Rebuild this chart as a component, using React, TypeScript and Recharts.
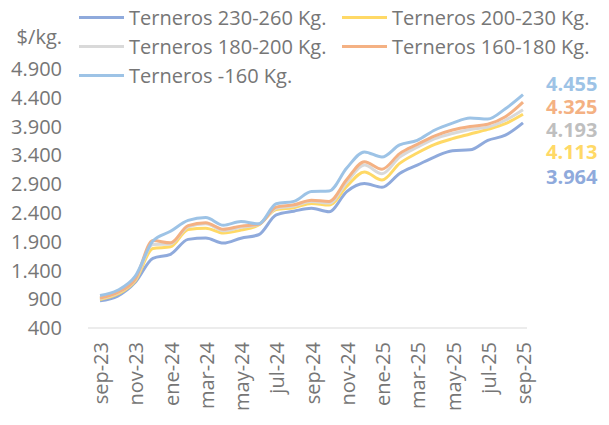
import React from 'react';
import { LineChart, Line, XAxis, YAxis, Legend } from 'recharts';

const months = [
  'sep-23', 'oct-23', 'nov-23', 'dic-23', 'ene-24', 'feb-24', 'mar-24', 'abr-24', 'may-24',
  'jun-24', 'jul-24', 'ago-24', 'sep-24', 'oct-24', 'nov-24', 'dic-24', 'ene-25', 'feb-25',
  'mar-25', 'abr-25', 'may-25', 'jun-25', 'jul-25', 'ago-25', 'sep-25',
];

const t230_260 = [875, 955, 1195, 1610, 1680, 1940, 1965, 1875, 1960, 2020, 2365, 2430, 2480, 2420, 2770, 2910, 2845, 3085, 3230, 3375, 3480, 3495, 3660, 3750, 3964];
const t200_230 = [895, 990, 1220, 1780, 1810, 2110, 2135, 2050, 2100, 2190, 2460, 2490, 2565, 2535, 2860, 3110, 2970, 3260, 3440, 3590, 3690, 3770, 3850, 3950, 4113];
const t180_200 = [910, 1010, 1240, 1850, 1860, 2160, 2210, 2090, 2150, 2200, 2480, 2520, 2600, 2570, 2930, 3230, 3080, 3370, 3540, 3690, 3780, 3850, 3890, 4010, 4193];
const t160_180 = [920, 1020, 1250, 1920, 1880, 2180, 2230, 2115, 2170, 2200, 2500, 2540, 2620, 2600, 2980, 3290, 3160, 3430, 3590, 3740, 3840, 3900, 3940, 4070, 4325];
const tMenos160 = [965, 1055, 1300, 1910, 2080, 2270, 2320, 2185, 2250, 2210, 2560, 2600, 2770, 2780, 3180, 3460, 3370, 3580, 3660, 3840, 3960, 4050, 4030, 4210, 4455];

const yTicks = [400, 900, 1400, 1900, 2400, 2900, 3400, 3900, 4400, 4900];

const data = months.map((m, i) => ({
  mes: m,
  a: t230_260[i],
  b: t200_230[i],
  c: t180_200[i],
  d: t160_180[i],
  e: tMenos160[i],
}));

const FONT = '"Open Sans", sans-serif';
const GRAY = '#767676';

const fmt = (v: number) => String(v).replace(/\B(?=(\d{3})+(?!\d))/g, '.');

const series = [
  { key: 'a', name: 'Terneros 230-260 Kg.', color: '#8FAADC', label: '#8FAADC', dy: 54 },
  { key: 'b', name: 'Terneros 200-230 Kg.', color: '#FFD966', label: '#FFD966', dy: 38 },
  { key: 'c', name: 'Terneros 180-200 Kg.', color: '#D9D9D9', label: '#BFBFBF', dy: 20 },
  { key: 'd', name: 'Terneros 160-180 Kg.', color: '#F4B183', label: '#F4B183', dy: 5 },
  { key: 'e', name: 'Terneros -160 Kg.', color: '#9DC3E6', label: '#9DC3E6', dy: -11 },
];

const endLabel = (color: string, dy: number) => (props: any) => {
  const { x, y, index, value } = props;
  if (index !== months.length - 1) return null;
  return (
    <text x={x + 23} y={y + dy} dy="0.35em" fill={color} fontFamily={FONT} fontSize={20} fontWeight={700}>
      {fmt(value)}
    </text>
  );
};

const XTick = (props: any) => {
  const { x, y, payload } = props;
  return (
    <text
      transform={`translate(${x + 1},${y}) rotate(-90)`}
      textAnchor="end"
      dy="0.35em"
      fill={GRAY}
      fontFamily={FONT}
      fontSize={20}
    >
      {payload.value}
    </text>
  );
};

// legend drawn in series order, two columns
const LegendBox = () => (
  <div style={{ display: 'grid', gridTemplateColumns: '263px 250px', fontFamily: FONT, fontSize: 20, color: GRAY }}>
    {series.map((s) => (
      <div key={s.key} style={{ display: 'flex', alignItems: 'center', height: 29, whiteSpace: 'nowrap' }}>
        <span style={{ display: 'inline-block', width: 45, height: 3, background: s.color, marginRight: 5 }} />
        {s.name}
      </div>
    ))}
  </div>
);

const UnitLabel = (props: any) => {
  const { viewBox } = props;
  return (
    <text x={viewBox.x + viewBox.width - 26} y={viewBox.y - 32} dy="0.35em" textAnchor="end" fill={GRAY} fontFamily={FONT} fontSize={20}>
      $/kg.
    </text>
  );
};

export default function App() {
  return (
    <LineChart width={601} height={417} data={data} margin={{ top: 61, right: 82, bottom: 0, left: 0 }}>
      <Legend
        layout="horizontal"
        verticalAlign="middle"
        content={<LegendBox />}
        wrapperStyle={{ position: 'absolute', top: -5, left: 71, width: 530 }}
      />
      <XAxis
        dataKey="mes"
        interval={1}
        height={97}
        padding={{ left: 12, right: 4 }}
        tickLine={false}
        axisLine={{ stroke: '#D9D9D9', strokeWidth: 1 }}
        tick={<XTick />}
        tickMargin={8}
      />
      <YAxis
        width={80}
        domain={[400, 4900]}
        ticks={yTicks}
        interval={0}
        axisLine={false}
        tickLine={false}
        tickSize={0}
        tickMargin={26}
        tickFormatter={fmt}
        tick={{ fill: GRAY, fontFamily: FONT, fontSize: 20 }}
        label={<UnitLabel />}
      />
      {series.map((s) => (
        <Line
          key={s.key}
          type="monotone"
          dataKey={s.key}
          name={s.name}
          stroke={s.color}
          strokeWidth={3}
          dot={false}
          activeDot={false}
          isAnimationActive={false}
          label={endLabel(s.label, s.dy)}
        />
      ))}
    </LineChart>
  );
}
